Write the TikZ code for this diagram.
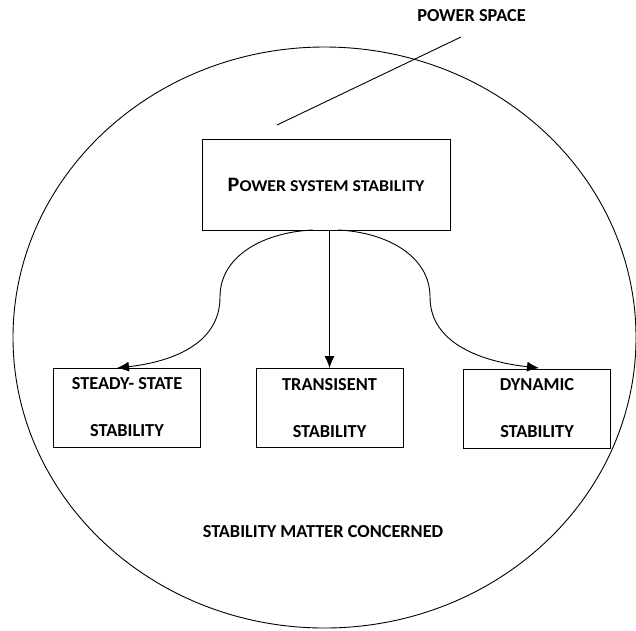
\documentclass[tikz,border=0pt]{standalone}
\usepackage{fontspec}
\setmainfont{Carlito}
\usetikzlibrary{arrows.meta}
\begin{document}
\begin{tikzpicture}[x=1pt,y=-1pt,
  lbl/.style={font=\bfseries\fontsize{18.3}{20}\selectfont, inner sep=0pt},
  bigbox/.style={draw, line width=0.9pt, minimum width=248pt, minimum height=91pt, inner sep=0pt},
  smallbox/.style={draw, line width=0.9pt, minimum width=147pt, minimum height=79pt, inner sep=0pt, align=center,
     font=\bfseries\fontsize{18.3}{47}\selectfont},
  conn/.style={line width=0.9pt, -{Latex[length=12pt,width=10pt]}},
  plain/.style={line width=0.9pt}]
\useasboundingbox (0,0) rectangle (636,630);
\draw[plain] (324.5,337.5) ellipse [x radius=311.5, y radius=290.5];
\node[lbl] (ps) at (471.5,16) {POWER SPACE};
\coordinate (la) at (277,125);
\coordinate (lb) at (461,37);
\draw[plain] (la) -- (lb);
\node[bigbox] (main) at (326,184.5) {\bfseries\scalebox{1.08}[1]{{\fontsize{20.5}{22}\selectfont P}{\fontsize{16.5}{18}\selectfont OWER SYSTEM STABILITY}}};
\node[smallbox] (s1) at (127,407.5) {STEADY- STATE\\STABILITY};
\node[smallbox] (s2) at (329.5,408) {TRANSISENT\\STABILITY};
\node[smallbox] (s3) at (537,408.5) {DYNAMIC\\STABILITY};
\node[lbl] (smc) at (323,532) {STABILITY MATTER CONCERNED};
\coordinate (ml) at (313,230);
\coordinate (mr) at (338,230);
\coordinate (t1) at (117,368);
\coordinate (t3) at (539,368);
\draw[conn] (main.south -| s2.north) -- (s2.north);
\draw[conn] (ml) .. controls (265,232) and (220,255) .. (220,297) .. controls (220,345) and (170,362) .. (t1);
\draw[conn] (mr) .. controls (385,232) and (430,255) .. (430,297) .. controls (430,345) and (485,362) .. (t3);
\end{tikzpicture}
\end{document}
